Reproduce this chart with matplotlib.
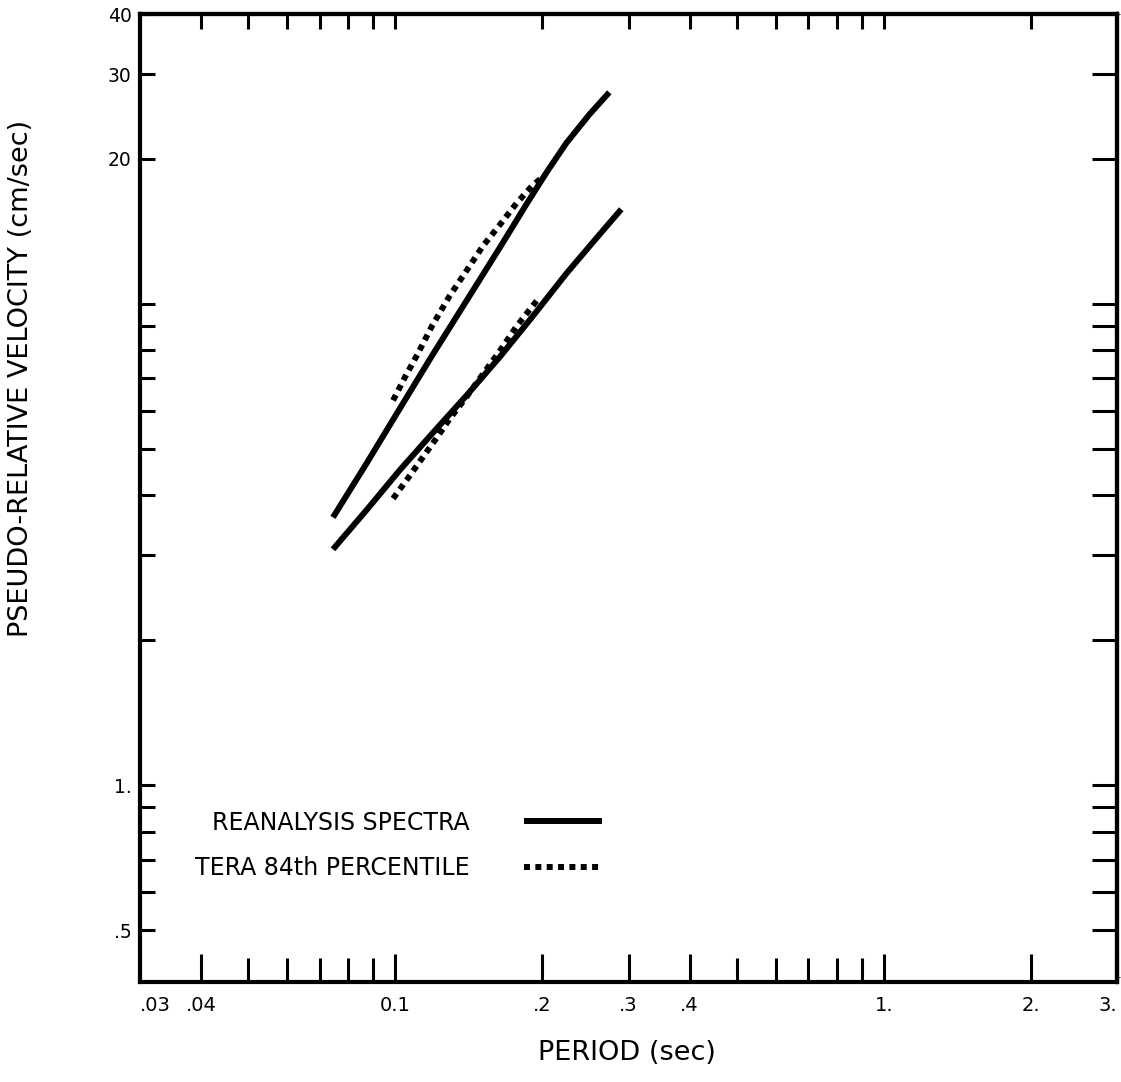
import matplotlib
matplotlib.use("Agg")
import matplotlib.pyplot as plt
from matplotlib.lines import Line2D

# period (sec) / pseudo-relative velocity (cm/sec)
reanalysis_upper_T = [0.0745, 0.0875, 0.102, 0.119, 0.140, 0.164, 0.186, 0.204, 0.224, 0.250, 0.274]
reanalysis_upper_V = [3.60, 4.68, 6.05, 7.82, 10.17, 13.14, 16.18, 18.77, 21.6, 24.8, 27.5]

reanalysis_lower_T = [0.0745, 0.0875, 0.102, 0.119, 0.140, 0.164, 0.191, 0.224, 0.262, 0.290]
reanalysis_lower_V = [3.09, 3.74, 4.51, 5.38, 6.46, 7.78, 9.42, 11.57, 13.95, 15.72]

tera_upper_T = [0.0989, 0.1046, 0.111, 0.119, 0.129, 0.140, 0.151, 0.164, 0.177, 0.191, 0.2025]
tera_upper_V = [6.30, 7.04, 7.86, 9.02, 10.37, 11.74, 13.18, 14.64, 16.18, 17.64, 18.5]

tera_lower_T = [0.0989, 0.1057, 0.1123, 0.1217, 0.129, 0.140, 0.151, 0.164, 0.177, 0.195]
tera_lower_V = [3.94, 4.32, 4.71, 5.28, 5.76, 6.42, 7.14, 8.01, 8.98, 10.17]

# ticks
x_major = [0.03, 0.04, 0.1, 0.2, 0.3, 0.4, 1, 2, 3]
x_major_labels = [".03", ".04", "0.1", ".2", ".3", ".4", "1.", "2.", "3."]
x_minor = [0.05, 0.06, 0.07, 0.08, 0.09, 0.5, 0.6, 0.7, 0.8, 0.9]
y_major = [0.5, 1, 20, 30, 40]
y_major_labels = [".5", "1.", "20", "30", "40"]
y_minor = [0.6, 0.7, 0.8, 0.9, 2, 3, 4, 5, 6, 7, 8, 9, 10]
y_right = [0.5, 0.6, 0.7, 0.8, 0.9, 1, 2, 3, 4, 5, 6, 7, 8, 9, 10, 20, 30]

fig = plt.figure(figsize=(11.21, 10.82), dpi=100)
ax = fig.add_axes([140 / 1121, 1 - 982 / 1082, 977 / 1121, 968 / 1082])
ax.set_xscale("log")
ax.set_yscale("log")
ax.set_xlim(0.03, 3)
ax.set_ylim(0.39, 40)

lw = 4.3
dots = (0, (1, 0.9))
ax.plot(reanalysis_upper_T, reanalysis_upper_V, color="black", lw=lw, solid_capstyle="butt")
ax.plot(reanalysis_lower_T, reanalysis_lower_V, color="black", lw=lw, solid_capstyle="butt")
ax.plot(tera_upper_T, tera_upper_V, color="black", lw=lw, linestyle=dots, dash_capstyle="butt")
ax.plot(tera_lower_T, tera_lower_V, color="black", lw=lw, linestyle=dots, dash_capstyle="butt")

for s in ax.spines.values():
    s.set_linewidth(3)

# bottom / left ticks
ax.set_xticks(x_major)
ax.set_xticklabels(x_major_labels)
ax.set_xticks(x_minor, minor=True)
ax.set_xticklabels([], minor=True)
ax.set_yticks(y_major)
ax.set_yticklabels(y_major_labels)
ax.set_yticks(y_minor, minor=True)
ax.set_yticklabels([], minor=True)
ax.tick_params(axis="x", which="both", direction="in", width=2.2, labelsize=14, pad=10)
ax.tick_params(axis="x", which="major", length=20)
ax.tick_params(axis="x", which="minor", length=17)
ax.tick_params(axis="y", which="both", direction="in", width=2.2, length=11, labelsize=13.5, pad=6)
xlabels = ax.get_xticklabels()
xlabels[0].set_ha("left")
xlabels[-1].set_ha("right")

# top / right ticks
top = ax.secondary_xaxis("top")
top.set_xticks([t for t in x_major if 0.03 < t < 3] + x_minor)
top.tick_params(direction="in", width=2.2, length=11, labeltop=False)
top.spines["top"].set_linewidth(3)
right = ax.secondary_yaxis("right")
right.set_yticks(y_right)
right.tick_params(direction="in", width=2.2, length=18, labelright=False)
right.spines["right"].set_linewidth(3)

ax.set_xlabel("PERIOD (sec)", fontsize=19.5)
ax.xaxis.set_label_coords(0.4985, -0.06)
ax.set_ylabel("PSEUDO-RELATIVE VELOCITY (cm/sec)", fontsize=19.5)
ax.yaxis.set_label_coords(-0.108, 0.623)

handles = [
    Line2D([], [], color="black", lw=lw, solid_capstyle="butt"),
    Line2D([], [], color="black", lw=lw, linestyle=dots, dash_capstyle="butt"),
]
ax.legend(handles, ["REANALYSIS SPECTRA", "TERA 84th PERCENTILE"], loc="upper left",
          bbox_to_anchor=(0.056, 0.177), frameon=False, fontsize=17, markerfirst=False,
          handlelength=3.3, handletextpad=2.3, labelspacing=0.9, borderpad=0, borderaxespad=0)

fig.savefig("out.png", dpi=100)
